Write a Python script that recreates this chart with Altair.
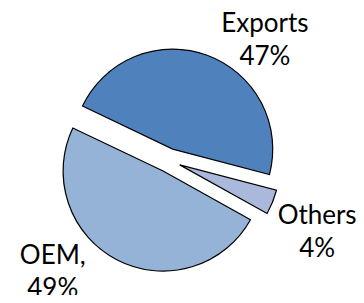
import math
import altair as alt
import pandas as pd

# ---- data ----
categories = ["Exports", "Others", "OEM"]
shares = [47, 4, 49]
label_lines = ["Exports\n47%", "Others\n4%", "OEM,\n49%"]

# ---- style / layout ----
colors = ["#4F81BD", "#AAB9DB", "#95B3D7"]
W, H = 348, 287
CX, CY = 160.6, 152.4          # undisplaced pie centre (px)
R = 100                        # pie radius (px)
EXPLODE = 12                   # explosion distance (px)
START = -64.5 * math.pi / 180  # angle of first slice edge
LINE_H = 33
label_angle_deg = {"Exports": 38.7, "Others": 115.8, "OEM": 226.0}
label_dist = {"Exports": 154, "Others": 165, "OEM": 161}

df = pd.DataFrame({
    "cat": categories,
    "share": shares,
    "order": list(range(len(categories))),
    "label": label_lines,
    "la": [label_angle_deg[c] for c in categories],
    "lr": [label_dist[c] for c in categories],
})

base = (
    alt.Chart(df)
    .transform_joinaggregate(total="sum(share)")
    .transform_window(cum="sum(share)", sort=[{"field": "order"}])
    .transform_calculate(
        t0=f"{START} + (datum.cum - datum.share) / datum.total * 2 * PI",
        t1=f"{START} + datum.cum / datum.total * 2 * PI",
    )
    .transform_calculate(mid="(datum.t0 + datum.t1) / 2")
    .transform_calculate(
        cx=f"{CX} + {EXPLODE} * sin(datum.mid)",
        cy=f"{CY} - {EXPLODE} * cos(datum.mid)",
        lx=f"{CX} + datum.lr * sin(datum.la * PI / 180)",
        ly=f"{CY} - datum.lr * cos(datum.la * PI / 180) - {LINE_H / 2}",
    )
)

arcs = base.mark_arc(radius=R, stroke="black", strokeWidth=1.2).encode(
    theta=alt.Theta("t0:Q", scale=None),
    theta2="t1:Q",
    x=alt.X("cx:Q", scale=None),
    y=alt.Y("cy:Q", scale=None),
    color=alt.Color("cat:N", scale=alt.Scale(domain=categories, range=colors), legend=None),
)

labels = base.mark_text(
    font="Lato", fontSize=26, lineBreak="\n", lineHeight=LINE_H,
    align="center", baseline="middle", color="black",
).encode(
    x=alt.X("lx:Q", scale=None),
    y=alt.Y("ly:Q", scale=None),
    text="label:N",
)

chart = (
    alt.layer(arcs, labels)
    .properties(width=W, height=H, autosize="none", padding=0)
    .configure_view(stroke=None)
)

chart.save("out.html", embed_options={"renderer": "svg", "actions": False})
